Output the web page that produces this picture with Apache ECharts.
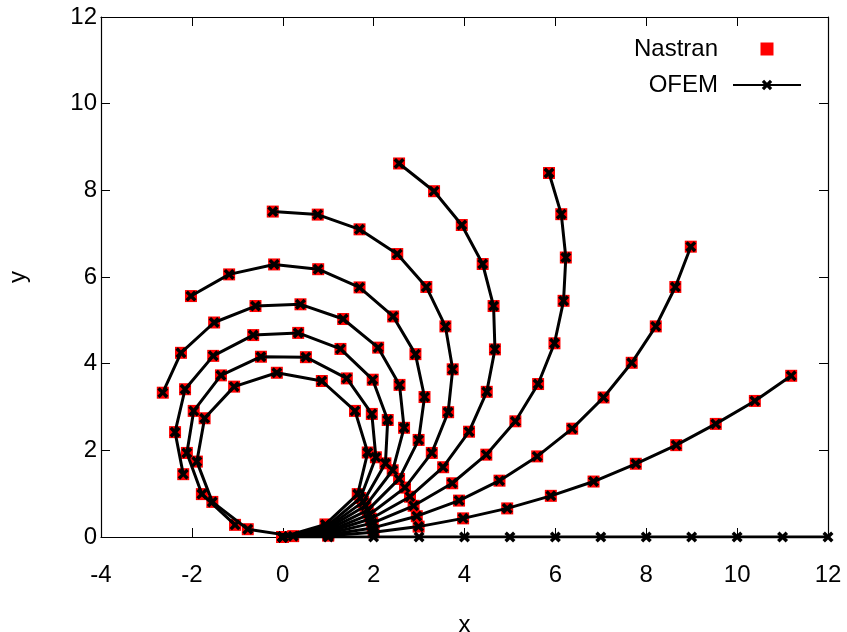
<!DOCTYPE html>
<html>
<head>
<meta charset="utf-8">
<script src="https://cdn.jsdelivr.net/npm/echarts@6/dist/echarts.min.js"></script>
<style>
  html, body { margin: 0; padding: 0; background: #ffffff; }
  #chart { width: 847px; height: 632px; }
</style>
</head>
<body>
<div id="chart"></div>
<script>
// Deformed cantilever (13 nodes, [x, y]) for each end-moment fraction 0.0 ... 1.0
const load00 = [[0,0],[1,0],[2,0],[3,0],[4,0],[5,0],[6,0],[7,0],[8,0],[9,0],[10,0],[11,0],[12,0]];
const load01 = [[0,0],[1.00,0.03],[2.00,0.11],[2.99,0.24],[3.97,0.43],[4.94,0.66],[5.90,0.95],[6.84,1.28],[7.77,1.69],[8.66,2.12],[9.53,2.61],[10.39,3.14],[11.19,3.72]];
const load02 = [[0,0],[1.00,0.05],[1.98,0.21],[2.95,0.48],[3.88,0.84],[4.77,1.30],[5.60,1.86],[6.37,2.50],[7.06,3.22],[7.68,4.02],[8.21,4.86],[8.64,5.77],[8.98,6.70]];
const load03 = [[0,0],[1.00,0.08],[1.97,0.32],[2.88,0.72],[3.73,1.24],[4.48,1.90],[5.12,2.67],[5.62,3.53],[5.98,4.47],[6.18,5.45],[6.23,6.45],[6.13,7.45],[5.86,8.40]];
const load04 = [[0,0],[0.99,0.11],[1.94,0.42],[2.80,0.93],[3.53,1.61],[4.10,2.43],[4.49,3.35],[4.67,4.33],[4.64,5.33],[4.40,6.30],[3.94,7.20],[3.33,7.98],[2.56,8.62]];
const load05 = [[0,0],[0.99,0.13],[1.91,0.52],[2.69,1.14],[3.28,1.94],[3.64,2.88],[3.74,3.87],[3.58,4.86],[3.16,5.77],[2.52,6.53],[1.69,7.10],[0.77,7.44],[-0.22,7.51]];
const load06 = [[0,0],[0.98,0.16],[1.87,0.62],[2.56,1.34],[2.99,2.24],[3.12,3.23],[2.92,4.22],[2.43,5.09],[1.69,5.76],[0.78,6.18],[-0.19,6.29],[-1.18,6.06],[-2.02,5.56]];
const load07 = [[0,0],[0.98,0.19],[1.82,0.72],[2.42,1.54],[2.67,2.52],[2.57,3.51],[2.10,4.37],[1.33,5.03],[0.39,5.37],[-0.60,5.33],[-1.51,4.95],[-2.24,4.25],[-2.64,3.33]];
const load08 = [[0,0],[0.97,0.21],[1.77,0.81],[2.26,1.70],[2.31,2.70],[1.98,3.63],[1.27,4.34],[0.34,4.71],[-0.65,4.66],[-1.53,4.18],[-2.15,3.41],[-2.37,2.42],[-2.19,1.45]];
const load09 = [[0,0],[0.96,0.24],[1.71,0.90],[2.05,1.84],[1.96,2.84],[1.41,3.66],[0.51,4.15],[-0.48,4.16],[-1.36,3.73],[-1.96,2.91],[-2.11,1.94],[-1.78,0.99],[-1.05,0.28]];
const load10 = [[0,0],[0.94,0.29],[1.65,0.99],[1.87,1.95],[1.59,2.91],[0.86,3.60],[-0.13,3.79],[-1.07,3.47],[-1.72,2.74],[-1.89,1.74],[-1.55,0.81],[-0.77,0.18],[0.23,0.02]];

// Reference solver results (loaded steps) and in-house solver results (all steps)
const nastranSteps = [load01, load02, load03, load04, load05, load06, load07, load08, load09, load10];
const ofemSteps = [load00, load01, load02, load03, load04, load05, load06, load07, load08, load09, load10];

const seriesNames = ['Nastran', 'OFEM'];
const xRange = [-4, 12];
const yRange = [0, 12];
const tickStep = 2;

const FONT = "'Liberation Sans', Arial, Helvetica, sans-serif";
const FONT_SIZE = 24;
const CROSS = 'path://M0,2.2L2.2,0L5,2.8L7.8,0L10,2.2L7.2,5L10,7.8L7.8,10L5,7.2L2.2,10L0,7.8L2.8,5Z';
const SQUARE = 'path://M0,0H10V10H0Z';

const series = [];
nastranSteps.forEach(function (pts) {
  series.push({
    name: seriesNames[0],
    type: 'scatter',
    data: pts,
    symbol: SQUARE,
    symbolSize: 12,
    itemStyle: { color: '#ff0000', opacity: 1 },
    z: 2,
    silent: true
  });
});
ofemSteps.forEach(function (pts) {
  series.push({
    name: seriesNames[1],
    type: 'line',
    data: pts,
    symbol: CROSS,
    symbolSize: 11,
    showAllSymbol: true,
    showSymbol: true,
    lineStyle: { color: '#000000', width: 3 },
    itemStyle: { color: '#000000', opacity: 1 },
    z: 3,
    silent: true
  });
});

function valueAxis(base, extra) {
  return Object.assign({
    type: 'value',
    min: base[0],
    max: base[1],
    interval: tickStep,
    splitLine: { show: false },
    axisLine: { show: true, onZero: false, lineStyle: { color: '#000', width: 1.2 } },
    axisTick: { show: true, inside: true, length: 9, lineStyle: { color: '#000', width: 1 } },
    axisLabel: { show: false }
  }, extra);
}

const chart = echarts.init(document.getElementById('chart'), null, { renderer: 'canvas' });
chart.setOption({
  animation: false,
  backgroundColor: '#ffffff',
  textStyle: { fontFamily: FONT },
  grid: { left: 101, top: 17, right: 19, bottom: 95, containLabel: false, outerBoundsMode: 'none' },
  legend: {
    show: true,
    orient: 'vertical',
    align: 'right',
    right: 40,
    top: 32,
    itemWidth: 68,
    itemHeight: 13,
    itemGap: 12,
    selectedMode: false,
    textStyle: { fontSize: FONT_SIZE, color: '#000', fontFamily: FONT, padding: [0, 10, 0, 0] },
    data: [{ name: seriesNames[0], icon: SQUARE }, { name: seriesNames[1] }]
  },
  xAxis: [
    valueAxis(xRange, {
      position: 'bottom',
      name: 'x',
      nameLocation: 'middle',
      nameGap: 76,
      nameTextStyle: { fontSize: FONT_SIZE, color: '#000', fontFamily: FONT },
      axisLabel: { show: true, fontSize: FONT_SIZE, color: '#000', margin: 26, fontFamily: FONT }
    }),
    valueAxis(xRange, { position: 'top' })
  ],
  yAxis: [
    valueAxis(yRange, {
      position: 'left',
      name: 'y',
      nameLocation: 'middle',
      nameGap: 71,
      nameTextStyle: { fontSize: FONT_SIZE, color: '#000', fontFamily: FONT },
      axisLabel: { show: true, fontSize: FONT_SIZE, color: '#000', margin: 4, fontFamily: FONT }
    }),
    valueAxis(yRange, { position: 'right' })
  ],
  series: series
});
</script>
</body>
</html>
